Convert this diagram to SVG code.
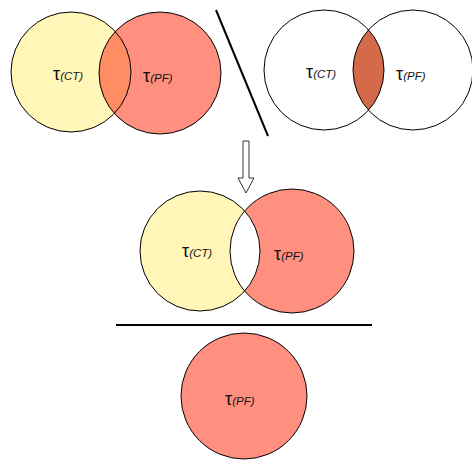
<svg xmlns="http://www.w3.org/2000/svg" width="472" height="461" viewBox="0 0 472 461">
  <style>
    .ln { stroke: #000; stroke-width: 2; }
    .ring { fill: none; stroke: #000; stroke-width: 1; }
    .ct { fill: #FFF6B8; }
    .pf { fill: #FF9080; }
    .tau { font-family: "Liberation Sans", Arial, sans-serif; font-size: 18px; fill: #111; }
    .sub { font-size: 11.5px; font-style: italic; }
  </style>
  <defs>
    <clipPath id="clipTL"><circle cx="71" cy="72" r="60"/></clipPath>
    <clipPath id="clipMid"><circle cx="200" cy="251" r="60"/></clipPath>
  </defs>

  <!-- union of the two sets -->
  <g id="union">
    <circle class="ct" cx="71" cy="72" r="60"/>
    <circle class="pf" cx="160" cy="73" r="61"/>
    <circle cx="160" cy="73" r="61" fill="#FF8C62" clip-path="url(#clipTL)"/>
    <circle class="ring" cx="71" cy="72" r="60"/>
    <circle class="ring" cx="160" cy="73" r="61"/>
    <text class="tau" x="53" y="80">τ<tspan class="sub">(CT)</tspan></text>
    <text class="tau" x="143" y="82">τ<tspan class="sub">(PF)</tspan></text>
  </g>

  <!-- intersection of the two sets -->
  <g id="intersection">
    <path d="M368.5 29.75 A60 60 0 0 1 368.5 110.25 A60 60 0 0 1 368.5 29.75 Z" fill="#D46A4A"/>
    <circle class="ring" cx="324" cy="70" r="60"/>
    <circle class="ring" cx="413" cy="70" r="60"/>
    <text class="tau" x="306" y="78">τ<tspan class="sub">(CT)</tspan></text>
    <text class="tau" x="396" y="80">τ<tspan class="sub">(PF)</tspan></text>
  </g>

  <!-- symmetric difference -->
  <g id="difference">
    <circle class="ct" cx="200" cy="251" r="60"/>
    <circle class="pf" cx="292" cy="251" r="62"/>
    <circle cx="292" cy="251" r="62" fill="#fff" clip-path="url(#clipMid)"/>
    <circle class="ring" cx="200" cy="251" r="60"/>
    <circle class="ring" cx="292" cy="251" r="62"/>
    <text class="tau" x="182" y="257">τ<tspan class="sub">(CT)</tspan></text>
    <text class="tau" x="274" y="260">τ<tspan class="sub">(PF)</tspan></text>
  </g>

  <!-- denominator set -->
  <g id="denominator">
    <circle class="pf" cx="244" cy="396" r="63"/>
    <circle class="ring" cx="244" cy="396" r="63"/>
    <text class="tau" x="225" y="405">τ<tspan class="sub">(PF)</tspan></text>
  </g>

  <g id="connectors">
    <line class="ln" x1="216" y1="10" x2="268" y2="136"/>
    <path d="M243 141 H249 V178 H254 L246 193 L238 178 H243 Z" fill="#fff" stroke="#000" stroke-width="0.8"/>
    <line class="ln" x1="116" y1="325" x2="372" y2="325"/>
  </g>
</svg>
